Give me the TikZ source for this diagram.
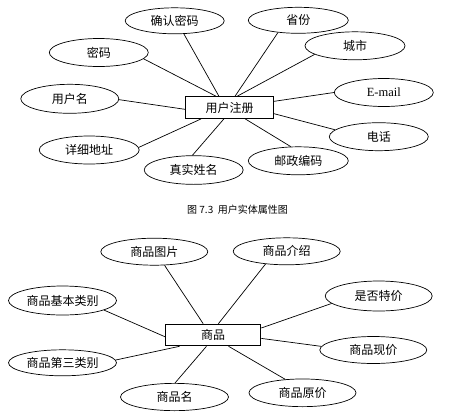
\documentclass[tikz,border=0pt]{standalone}
\usepackage{fontspec}
\setmainfont{Liberation Serif}
\newfontfamily\cjk{Noto Sans CJK SC}
\usetikzlibrary{shapes.geometric,calc}
\tikzset{
  attr/.style={ellipse, draw, line width=0.7pt, inner sep=0pt, minimum width=99, minimum height=28,
    font=\cjk\fontsize{12}{12}\selectfont},
  ent/.style={rectangle, draw, line width=1.2pt, inner sep=0pt,
    font=\cjk\fontsize{12}{12}\selectfont},
  link/.style={draw, line width=0.7pt},
  captext/.style={font=\cjk\fontsize{10}{10}\selectfont}
}
\begin{document}
\begin{tikzpicture}[x=1pt,y=-1pt]
\useasboundingbox (0,0) rectangle (455,416);
% ---- top diagram ----
\node[ent, minimum width=87.6, minimum height=21.6] (r) at (229.5,107.5) {用户注册};
\node[attr, minimum height=26] (a1) at (174.7,20.8) {确认密码};
\node[attr, minimum width=100, minimum height=26] (a2) at (298.3,20.3) {省份};
\node[attr, minimum width=100] (a3) at (355,45.8) {城市};
\node[attr] (a4) at (98.8,52.5) {密码};
\node[attr, minimum width=98, minimum height=29] (a5) at (69.8,98.8) {用户名};
\node[attr, font=\rmfamily\fontsize{12.5}{12.5}\selectfont] (a6) at (383.8,92.5) {E-mail};
\node[attr] (a7) at (378.8,136.7) {电话};
\node[attr, minimum width=100] (a8) at (89.2,150) {详细地址};
\node[attr, minimum height=28.7] (a9) at (193.7,170) {真实姓名};
\node[attr, minimum width=100] (a10) at (298.3,160.8) {邮政编码};
\draw[link] (a1.-55.3) -- ($(r.north west)!0.38!(r.north east)$);
\draw[link] (a2.-149) -- ($(r.north west)!0.563!(r.north east)$);
\draw[link] (a3.-168.4) -- ($(r.north west)!0.589!(r.north east)$);
\draw[link] (a4.-8.1) -- ($(r.north west)!0.346!(r.north east)$);
\draw[link] (a5.-1) -- ($(r.north west)!0.58!(r.south west)$);
\draw[link] (a6.180) -- ($(r.north east)!0.23!(r.south east)$);
\draw[link] (a7.171.4) -- ($(r.north east)!0.77!(r.south east)$);
\draw[link] (a8.3.7) -- ($(r.south west)!0.18!(r.south east)$);
\draw[link] (a9.95.3) -- ($(r.south west)!0.437!(r.south east)$);
\draw[link] (a10.118.8) -- ($(r.south west)!0.677!(r.south east)$);
% caption
\node[captext] (c) at (237.5,209.5) {图 7.3\ \ 用户实体属性图};
% ---- bottom diagram ----
\node[ent, minimum width=95, minimum height=21.4] (g) at (213.2,335) {商品};
\node[attr, minimum width=107, minimum height=27] (b1) at (154.3,251.7) {商品图片};
\node[attr, minimum width=107, minimum height=27] (b2) at (286.7,251.3) {商品介绍};
\node[attr, minimum width=107, minimum height=30] (b3) at (378.7,296) {是否特价};
\node[attr, minimum width=108, minimum height=29] (b4) at (62.5,300.5) {商品基本类别};
\node[attr, minimum width=107, minimum height=27] (b5) at (373.3,350) {商品现价};
\node[attr, minimum width=108, minimum height=26] (b6) at (62.5,362.8) {商品第三类别};
\node[attr, minimum width=108, minimum height=27.3] (b7) at (174.5,397) {商品名};
\node[attr, minimum width=107, minimum height=27.7] (b8) at (302.5,392.8) {商品原价};
\draw[link] (b1.-53) -- ($(g.north west)!0.396!(g.north east)$);
\draw[link] (b2.-149.6) -- ($(g.north west)!0.554!(g.north east)$);
\draw[link] (b3.-171.3) -- ($(g.north east)!0.19!(g.south east)$);
\draw[link] (b4.-13.6) -- ($(g.north west)!0.58!(g.south west)$);
\draw[link] (b5.176.5) -- ($(g.north east)!0.65!(g.south east)$);
\draw[link] (b6.3) -- ($(g.south west)!0.15!(g.south east)$);
\draw[link] (b7.88) -- ($(g.south west)!0.43!(g.south east)$);
\draw[link] (b8.142.2) -- ($(g.south west)!0.66!(g.south east)$);
\end{tikzpicture}
\end{document}
